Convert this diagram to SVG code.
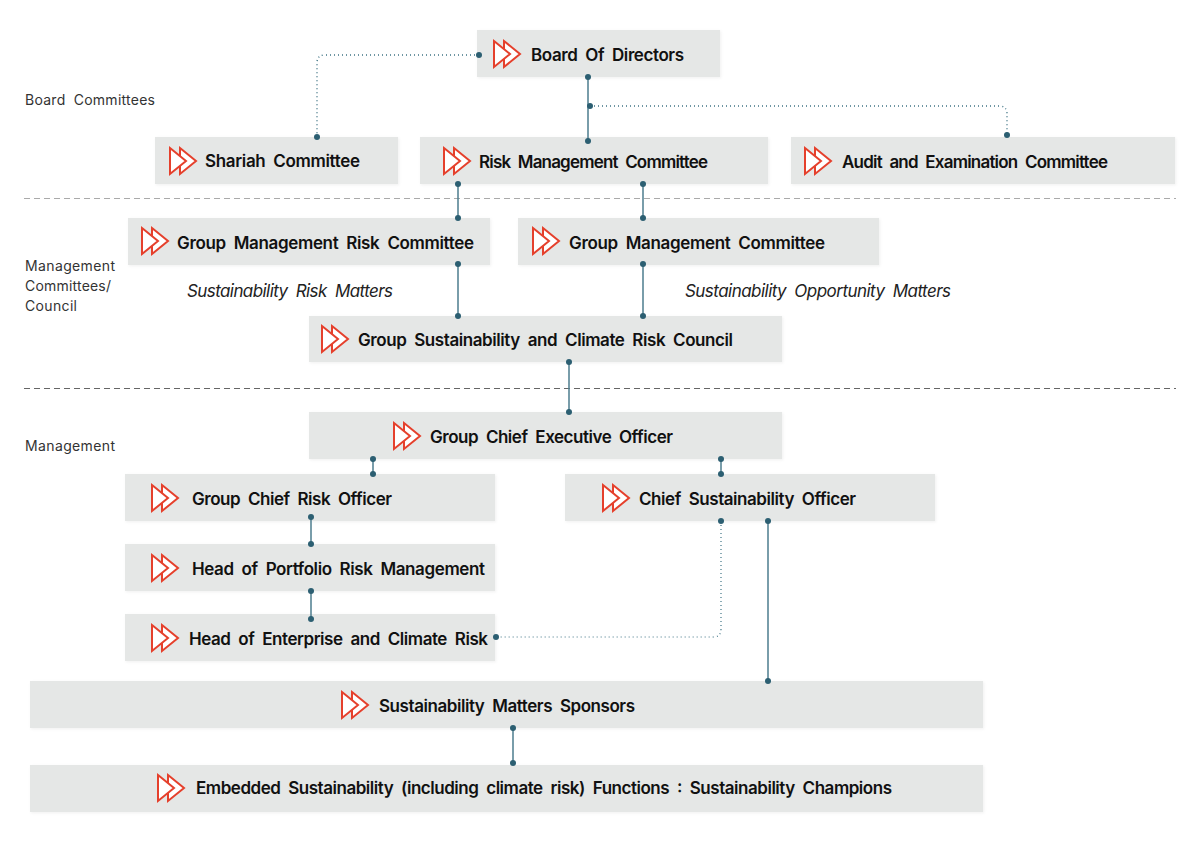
<svg xmlns="http://www.w3.org/2000/svg" xmlns:xlink="http://www.w3.org/1999/xlink" width="1200" height="847" viewBox="0 0 1200 847">
<style>
text{font-family:"Inter","Lato","Liberation Sans",sans-serif;fill:#111}
.n{font-size:17px;font-weight:600;word-spacing:4px}
.l{font-size:14px;fill:#333;word-spacing:4px}
.i{font-size:17px;font-style:italic;fill:#222;word-spacing:4px}
.b{fill:#e5e7e6;filter:url(#s)}
.ic{fill:#fff;stroke:#e5402c;stroke-width:2}
.c{fill:none;stroke:#4d7e8e;stroke-width:1.5}
.d{fill:none;stroke:#3f7485;stroke-width:1.4;stroke-dasharray:1 3}
.dot{fill:#2c5f72}
.sep{stroke:#aaa;stroke-width:1;stroke-dasharray:6 4}
</style>
<defs>
<filter id="s" x="-5%" y="-20%" width="110%" height="140%"><feDropShadow dx="1" dy="1" stdDeviation="1.5" flood-color="#000" flood-opacity=".06"/></filter>
<g id="icon"><polygon class="ic" points="10,0 26,13 10,26"/><polygon class="ic" points="0,0 16,13 0,26"/></g>
</defs>
<rect width="1200" height="847" fill="#fff"/>
<line class="sep" x1="24" y1="198.500" x2="1176" y2="198.500"/>
<line class="sep" x1="24" y1="388.500" x2="1176" y2="388.500" style="stroke:#666"/>
<g id="labels">
<text class="l" x="25" y="105" textLength="130">Board Committees</text>
<text class="l" x="25" y="271" textLength="90">Management</text>
<text class="l" x="25" y="291" textLength="86">Committees/</text>
<text class="l" x="25" y="311" textLength="52">Council</text>
<text class="l" x="25" y="451" textLength="90">Management</text>
<text class="i" x="187" y="297" textLength="206">Sustainability Risk Matters</text>
<text class="i" x="685" y="297" textLength="266">Sustainability Opportunity Matters</text>
</g>
<g id="n1"><rect class="b" x="477" y="30" width="243" height="47"/><use xlink:href="#icon" x="494" y="41"/><text class="n" x="531" y="61" textLength="153">Board Of Directors</text></g>
<g id="n2"><rect class="b" x="155" y="137" width="243" height="47"/><use xlink:href="#icon" x="170" y="148"/><text class="n" x="205" y="167" textLength="155">Shariah Committee</text></g>
<g id="n3"><rect class="b" x="420" y="137" width="348" height="47"/><use xlink:href="#icon" x="444" y="148"/><text class="n" x="479" y="168" textLength="229">Risk Management Committee</text></g>
<g id="n4"><rect class="b" x="791" y="137" width="384" height="47"/><use xlink:href="#icon" x="805" y="148"/><text class="n" x="842" y="168" textLength="266">Audit and Examination Committee</text></g>
<g id="n5"><rect class="b" x="128" y="218" width="362" height="47"/><use xlink:href="#icon" x="142" y="228"/><text class="n" x="177" y="249" textLength="297">Group Management Risk Committee</text></g>
<g id="n6"><rect class="b" x="518" y="218" width="361" height="47"/><use xlink:href="#icon" x="533" y="228"/><text class="n" x="569" y="249" textLength="256">Group Management Committee</text></g>
<g id="n7"><rect class="b" x="309" y="316" width="473" height="46"/><use xlink:href="#icon" x="322" y="326"/><text class="n" x="358" y="346" textLength="375">Group Sustainability and Climate Risk Council</text></g>
<g id="n8"><rect class="b" x="309" y="412" width="473" height="47"/><use xlink:href="#icon" x="394" y="423"/><text class="n" x="430" y="443" textLength="243">Group Chief Executive Officer</text></g>
<g id="n9"><rect class="b" x="125" y="474" width="370" height="47"/><use xlink:href="#icon" x="152" y="485"/><text class="n" x="192" y="505" textLength="200">Group Chief Risk Officer</text></g>
<g id="n10"><rect class="b" x="565" y="474" width="370" height="47"/><use xlink:href="#icon" x="603" y="485"/><text class="n" x="639" y="505" textLength="217">Chief Sustainability Officer</text></g>
<g id="n11"><rect class="b" x="125" y="544" width="370" height="47"/><use xlink:href="#icon" x="152" y="555"/><text class="n" x="192" y="575" textLength="293">Head of Portfolio Risk Management</text></g>
<g id="n12"><rect class="b" x="125" y="614" width="370" height="47"/><use xlink:href="#icon" x="152" y="625"/><text class="n" x="189" y="645" textLength="299">Head of Enterprise and Climate Risk</text></g>
<g id="n13"><rect class="b" x="30" y="681" width="953" height="47"/><use xlink:href="#icon" x="342" y="692"/><text class="n" x="379" y="712" textLength="256">Sustainability Matters Sponsors</text></g>
<g id="n14"><rect class="b" x="30" y="765" width="953" height="47"/><use xlink:href="#icon" x="158" y="775"/><text class="n" x="196" y="794" textLength="696">Embedded Sustainability (including climate risk) Functions : Sustainability Champions</text></g>
<g id="connectors">
<path class="d" d="M479 55H325Q317 55 317 63V137"/>
<path class="d" d="M590 106H999Q1007 106 1007 114V135"/>
<path class="d" d="M721 521V629Q721 637 713 637H496" style="stroke-width:1.200"/>
<path class="c" d="M588 77V141M458 184V218M643 184V218M458 264V316M643 264V316M569 362V412M373 459V474M721 459V474M311 517V544M311 591V619M768 521V681M513 728V763"/>
<g class="dot">
<circle cx="479" cy="55" r="3"/><circle cx="317" cy="137" r="3"/>
<circle cx="588" cy="77" r="3"/><circle cx="588" cy="141" r="3"/><circle cx="590" cy="106" r="3"/><circle cx="1007" cy="135" r="3"/>
<circle cx="458" cy="184" r="3"/><circle cx="458" cy="218" r="3"/><circle cx="643" cy="184" r="3"/><circle cx="643" cy="218" r="3"/>
<circle cx="458" cy="264" r="3"/><circle cx="458" cy="316" r="3"/><circle cx="643" cy="264" r="3"/><circle cx="643" cy="316" r="3"/>
<circle cx="569" cy="362" r="3"/><circle cx="569" cy="412" r="3"/>
<circle cx="373" cy="459" r="3"/><circle cx="373" cy="474" r="3"/><circle cx="721" cy="459" r="3"/><circle cx="721" cy="474" r="3"/>
<circle cx="311" cy="517" r="3"/><circle cx="311" cy="544" r="3"/><circle cx="311" cy="591" r="3"/><circle cx="311" cy="619" r="3"/>
<circle cx="721" cy="521" r="3"/><circle cx="768" cy="521" r="3"/><circle cx="768" cy="681" r="3"/><circle cx="496" cy="637" r="3"/>
<circle cx="513" cy="728" r="3"/><circle cx="513" cy="763" r="3"/>
</g>
</g>
</svg>
